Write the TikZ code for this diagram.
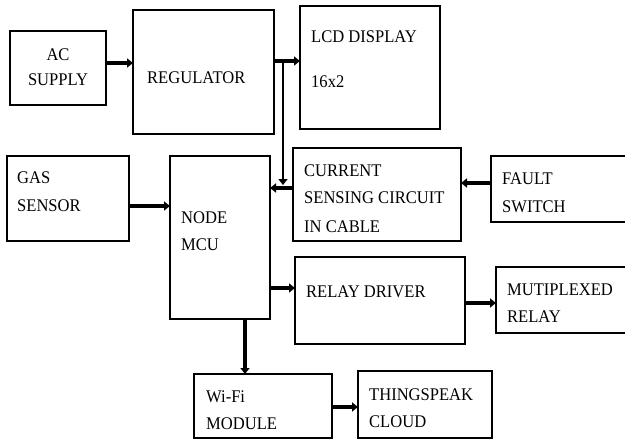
\documentclass[tikz,border=0pt]{standalone}
\usepackage{fontspec}
\setmainfont[FakeStretch=0.93]{Liberation Serif}
\usetikzlibrary{arrows.meta}
\tikzset{
  box/.style={draw, line width=1.2pt, inner sep=0pt, outer sep=0pt},
  txt/.style={anchor=base west, inner sep=0pt, font=\fontsize{17.8}{20}\selectfont},
  ctxt/.style={anchor=base, inner sep=0pt, font=\fontsize{17.8}{20}\selectfont},
  conn/.style={line width=3.2pt, -{Triangle[length=6pt,width=9pt]}},
  plain/.style={line width=3.2pt}
}
\begin{document}
\begin{tikzpicture}[x=1pt,y=-1pt]
\useasboundingbox (0,0) rectangle (625,439);
\clip (0,0) rectangle (625,439);
% boxes
\node[box, minimum width=96pt, minimum height=74pt] (ac) at (58,68) {};
\node[box, minimum width=141pt, minimum height=124pt] (reg) at (203.5,72) {};
\node[box, minimum width=140pt, minimum height=123pt] (lcd) at (370,67.5) {};
\node[box, minimum width=122pt, minimum height=85pt] (gas) at (68,198.5) {};
\node[box, minimum width=100pt, minimum height=163pt] (mcu) at (220,237.5) {};
\node[box, minimum width=168pt, minimum height=93pt] (cur) at (377,194.5) {};
\node[box, minimum width=160pt, minimum height=66pt] (fault) at (571,189) {};
\node[box, minimum width=170pt, minimum height=87pt] (relay) at (380,300.5) {};
\node[box, minimum width=150pt, minimum height=66pt] (mux) at (571,300) {};
\node[box, minimum width=138pt, minimum height=64pt] (wifi) at (263,406) {};
\node[box, minimum width=134pt, minimum height=67pt] (thing) at (425,404.5) {};
% texts
\node[ctxt] (t1) at (58,60) {AC};
\node[ctxt] (t2) at (58,85) {SUPPLY};
\node[txt] (t3) at (147,83) {REGULATOR};
\node[txt] (t4) at (311,42) {LCD DISPLAY};
\node[txt] (t5) at (311,87) {16x2};
\node[txt] (t6) at (17,183) {GAS};
\node[txt] (t7) at (17,211) {SENSOR};
\node[txt] (t8) at (181,223) {NODE};
\node[txt] (t9) at (181,250) {MCU};
\node[txt] (t10) at (304,176) {CURRENT};
\node[txt] (t11) at (304,203) {SENSING CIRCUIT};
\node[txt] (t12) at (304,232) {IN CABLE};
\node[txt] (t13) at (502,184) {FAULT};
\node[txt] (t14) at (502,212) {SWITCH};
\node[txt] (t15) at (306,297) {RELAY DRIVER};
\node[txt] (t16) at (507,295) {MUTIPLEXED};
\node[txt] (t17) at (507,322) {RELAY};
\node[txt] (t18) at (206,402) {Wi-Fi};
\node[txt] (t19) at (206,429) {MODULE};
\node[txt] (t20) at (369,400) {THINGSPEAK};
\node[txt] (t21) at (369,427) {CLOUD};
% connectors
\coordinate (br) at (283,61);
\draw[conn] (ac.east |- 0,63) -- (reg.west |- 0,63);
\draw[conn] (reg.east |- 0,61) -- (lcd.west |- 0,61);
\draw[conn, line width=2.8pt] (br) -- (283,185);
\draw[conn] (cur.west |- 0,188) -- (mcu.east |- 0,188);
\draw[conn] (gas.east |- 0,206) -- (mcu.west |- 0,206);
\draw[conn] (fault.west |- 0,183) -- (cur.east |- 0,183);
\draw[conn] (mcu.east |- 0,288) -- (relay.west |- 0,288);
\draw[conn] (relay.east |- 0,303) -- (mux.west |- 0,303);
\draw[conn] (mcu.south -| 245,0) -- (wifi.north -| 245,0);
\draw[conn] (wifi.east |- 0,407) -- (thing.west |- 0,407);
\end{tikzpicture}
\end{document}
